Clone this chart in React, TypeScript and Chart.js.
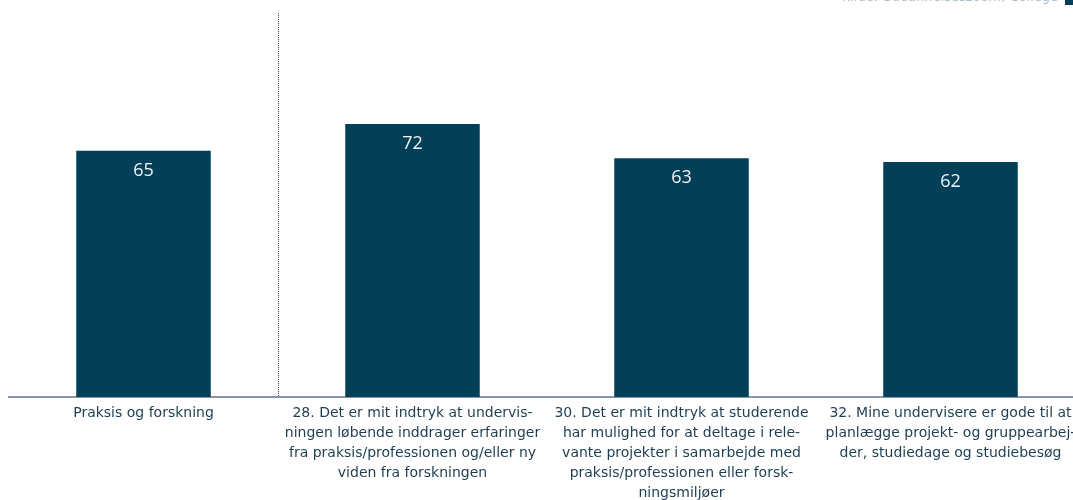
import React, { useEffect, useRef } from "react";
import { Chart, registerables } from "chart.js";

Chart.register(...registerables);

const categories: string[][] = [
  ["Praksis og forskning"],
  ["28. Det er mit indtryk at undervis-", "ningen løbende inddrager erfaringer", "fra praksis/professionen og/eller ny", "viden fra forskningen"],
  ["30. Det er mit indtryk at studerende", "har mulighed for at deltage i rele-", "vante projekter i samarbejde med", "praksis/professionen eller forsk-", "ningsmiljøer"],
  ["32. Mine undervisere er gode til at", "planlægge projekt- og gruppearbej-", "der, studiedage og studiebesøg"],
];
const values: number[] = [65, 72, 63, 62];
const yMin = 0;
const yMax = 100;

const BAR = "#033f57";
const TEXT = "#1d3d50";
const FONT = "'DejaVu Sans', sans-serif";

const valueLabels = {
  id: "valueLabels",
  afterDatasetsDraw(chart: any) {
    const ctx = chart.ctx;
    const meta = chart.getDatasetMeta(0);
    ctx.save();
    ctx.fillStyle = "#eef3f6";
    ctx.font = "18px 'Open Sans', sans-serif";
    ctx.textAlign = "center";
    ctx.textBaseline = "middle";
    meta.data.forEach((el: any, i: number) => {
      ctx.fillText(String(values[i]), el.x, el.y + 20);
    });
    ctx.restore();
  },
};

const divider = {
  id: "divider",
  beforeDatasetsDraw(chart: any) {
    const ctx = chart.ctx;
    const xs = chart.scales.x;
    const x = Math.round((xs.getPixelForValue(0) + xs.getPixelForValue(1)) / 2) + 0.5;
    ctx.save();
    ctx.strokeStyle = "#444";
    ctx.lineWidth = 1;
    ctx.setLineDash([1, 1]);
    ctx.beginPath();
    ctx.moveTo(x, 13);
    ctx.lineTo(x, chart.chartArea.bottom);
    ctx.stroke();
    ctx.restore();
  },
};

export default function App() {
  const ref = useRef<HTMLCanvasElement | null>(null);
  useEffect(() => {
    document.body.style.overflow = "hidden";
    document.documentElement.style.overflow = "hidden";
    const chart = new Chart(ref.current as HTMLCanvasElement, {
      type: "bar",
      data: {
        labels: categories,
        datasets: [
          {
            data: values,
            backgroundColor: BAR,
            barPercentage: 0.5,
            categoryPercentage: 1,
          },
        ],
      },
      options: {
        responsive: false,
        animation: false,
        layout: { padding: { left: 9, right: 5, top: 18, bottom: 0 } },
        plugins: { legend: { display: false }, tooltip: { enabled: false } },
        scales: {
          x: {
            offset: true,
            grid: { display: false, drawTicks: false },
            border: { display: true, color: "#8797ab", width: 2 },
            ticks: {
              color: TEXT,
              font: { family: FONT, size: 14, lineHeight: "20px" },
              padding: 6,
              maxRotation: 0,
              autoSkip: false,
            },
            afterFit: (s: any) => {
              s.height = 103;
            },
          },
          y: { display: false, min: yMin, max: yMax },
        },
      },
      plugins: [divider, valueLabels],
    });
    return () => chart.destroy();
  }, []);
  return (
    <div style={{ position: "absolute", left: 0, top: 0, width: 1090, height: 500 }}>
      <canvas ref={ref} width={1090} height={500} style={{ width: 1090, height: 500, display: "block" }} />
      <div
        style={{
          position: "absolute",
          right: 1090 - 1058,
          top: -10,
          fontFamily: FONT,
          fontSize: 13,
          lineHeight: "13px",
          color: "#a9bfcc",
          whiteSpace: "nowrap",
        }}
      >
        Kilde: Uddannelseszoom, College
      </div>
      <div style={{ position: "absolute", left: 1065, top: 0, width: 8, height: 5, background: BAR }} />
    </div>
  );
}
